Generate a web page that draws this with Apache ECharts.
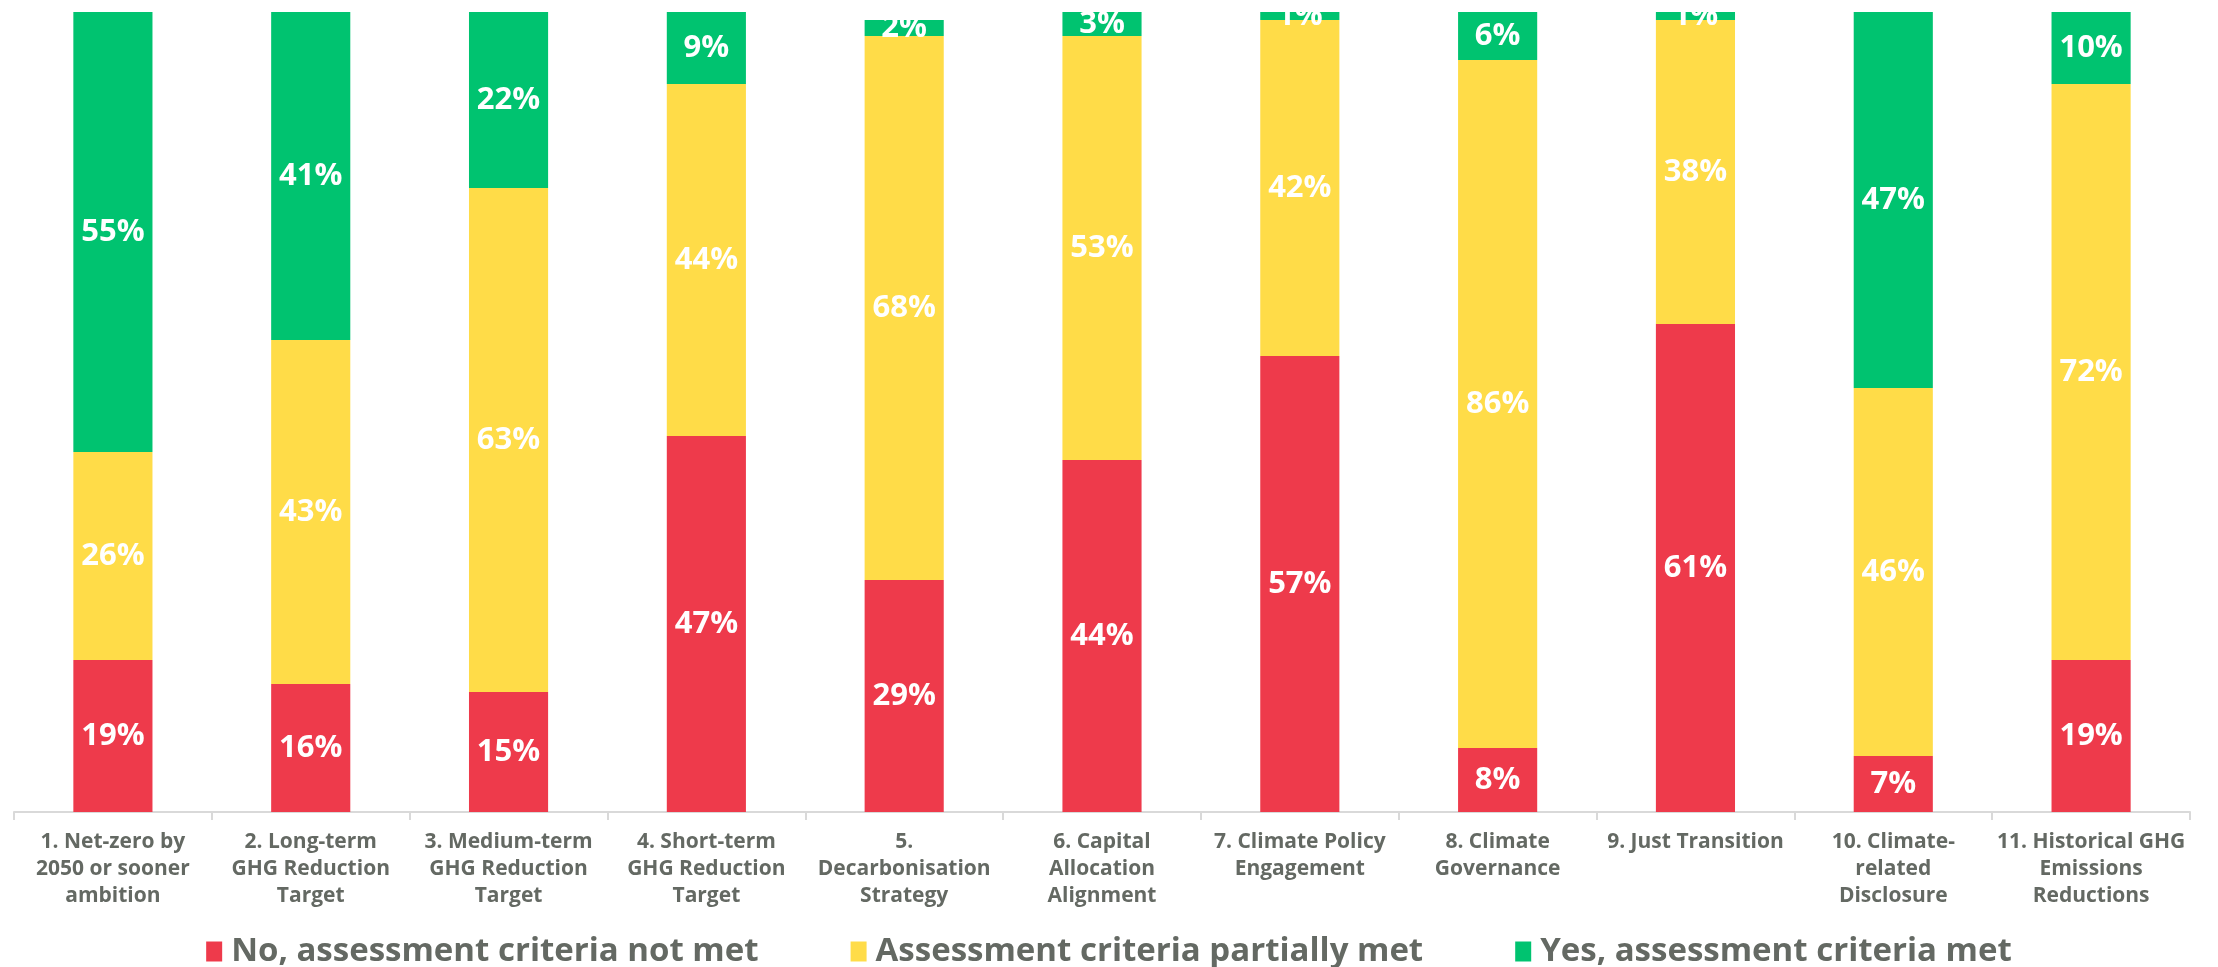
<!DOCTYPE html>
<html>
<head>
<meta charset="utf-8">
<style>
  html, body { margin: 0; padding: 0; background: #ffffff; }
  #chart { width: 2218px; height: 967px; }
</style>
<script src="https://cdn.jsdelivr.net/npm/echarts@6/dist/echarts.min.js"></script>
</head>
<body>
<div id="chart"></div>
<script>
// Assessment indicators (x-axis categories, pre-wrapped)
const categories = [
  '1. Net-zero by\n2050 or sooner\nambition',
  '2. Long-term\nGHG Reduction\nTarget',
  '3. Medium-term\nGHG Reduction\nTarget',
  '4. Short-term\nGHG Reduction\nTarget',
  '5.\nDecarbonisation\nStrategy',
  '6. Capital\nAllocation\nAlignment',
  '7. Climate Policy\nEngagement',
  '8. Climate\nGovernance',
  '9. Just Transition',
  '10. Climate-\nrelated\nDisclosure',
  '11. Historical GHG\nEmissions\nReductions'
];

// Share of companies (%) per outcome
const notMet = [19, 16, 15, 47, 29, 44, 57, 8, 61, 7, 19];
const partiallyMet = [26, 43, 63, 44, 68, 53, 42, 86, 38, 46, 72];
const met = [55, 41, 22, 9, 2, 3, 1, 6, 1, 47, 10];

const seriesNames = [
  'No, assessment criteria not met',
  'Assessment criteria partially met',
  'Yes, assessment criteria met'
];
const colors = ['#EE3A4B', '#FFDC48', '#00C370'];

const FONT = '"Open Sans", "DejaVu Sans", sans-serif';
const GREY = '#646963';

function barSeries(name, data, color) {
  return {
    name: name,
    type: 'bar',
    stack: 'total',
    barWidth: '40%',
    data: data,
    itemStyle: { color: color },
    label: {
      show: true,
      position: 'inside',
      formatter: '{c}%',
      color: '#ffffff',
      fontFamily: FONT,
      fontWeight: 'bold',
      fontSize: 31
    },
    emphasis: { disabled: true }
  };
}

const chart = echarts.init(document.getElementById('chart'));
chart.setOption({
  animation: false,
  backgroundColor: '#ffffff',
  grid: { left: 14, right: 28, top: 12, bottom: 155, containLabel: false },
  xAxis: {
    type: 'category',
    data: categories,
    axisLine: { lineStyle: { color: '#d9d9d9', width: 2 } },
    axisTick: { show: true, length: 8, lineStyle: { color: '#d9d9d9', width: 2 } },
    axisLabel: {
      interval: 0,
      margin: 17,
      color: GREY,
      fontFamily: FONT,
      fontWeight: 'bold',
      fontSize: 21,
      lineHeight: 27,
      align: 'center'
    }
  },
  yAxis: {
    type: 'value',
    min: 0,
    max: 100,
    show: false,
    splitLine: { show: false }
  },
  legend: {
    bottom: -6,
    left: 'center',
    icon: 'rect',
    itemWidth: 16,
    itemHeight: 20,
    itemGap: 92,
    data: seriesNames,
    textStyle: {
      color: GREY,
      fontFamily: FONT,
      fontWeight: 'bold',
      fontSize: 33,
      padding: [0, 0, 0, 4]
    }
  },
  // labels of the thinnest top segments are trimmed at the plot's upper edge
  graphic: [{
    type: 'rect',
    left: 0,
    top: 0,
    z: 100,
    shape: { width: 2218, height: 12 },
    style: { fill: '#ffffff' }
  }],
  series: [
    barSeries(seriesNames[0], notMet, colors[0]),
    barSeries(seriesNames[1], partiallyMet, colors[1]),
    barSeries(seriesNames[2], met, colors[2])
  ]
});
</script>
</body>
</html>
